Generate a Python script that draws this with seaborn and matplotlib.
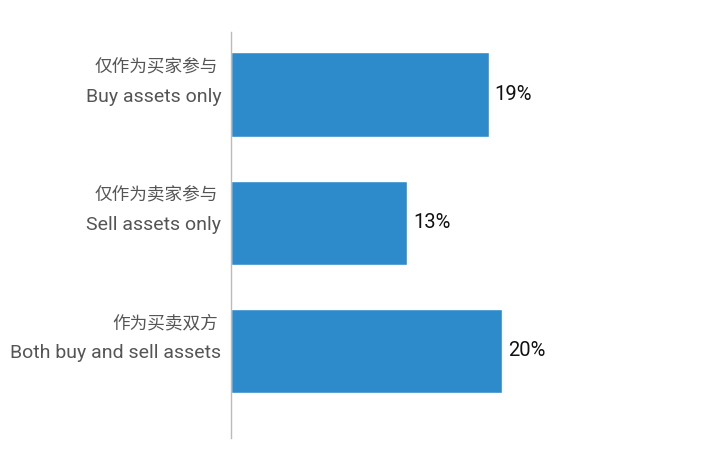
import matplotlib
matplotlib.use("Agg")
import matplotlib.pyplot as plt
from matplotlib import font_manager
import seaborn as sns
import pandas as pd

# ---- data ----
labels_en = ["Buy assets only", "Sell assets only", "Both buy and sell assets"]
labels_zh = ["仅作为买家参与", "仅作为卖家参与", "作为买卖双方"]
values = [19, 13, 20]
value_labels = ["19%", "13%", "20%"]

sns.set_theme(style="white")
names = {f.name for f in font_manager.fontManager.ttflist}
narrow = "Liberation Sans Narrow" if "Liberation Sans Narrow" in names else "Roboto"
plt.rcParams["font.family"] = [narrow, "Noto Sans CJK SC", "DejaVu Sans"]

df = pd.DataFrame({"label": labels_en, "value": values})

fig = plt.figure(figsize=(7.01, 4.71), dpi=100)
ax = fig.add_axes([231 / 701, 33 / 471, 339 / 701, 406 / 471])

sns.barplot(data=df, y="label", x="value", orient="h", color="#2E8BCB",
            saturation=1, width=0.66, ax=ax)

ax.set_xlim(0, 25)
ax.set_ylim(2.68, -0.49)
ax.set_xlabel("")
ax.set_ylabel("")
ax.set_xticks([])
for s in ["top", "right", "bottom"]:
    ax.spines[s].set_visible(False)
ax.spines["left"].set_color("#BBBBBB")
ax.spines["left"].set_linewidth(1)

ax.tick_params(axis="y", length=0, pad=7)
for t in ax.get_yticklabels():
    t.set_fontsize(14)
    t.set_color("#555555")

for i, zh in enumerate(labels_zh):
    ax.annotate(zh, xy=(0, i), xycoords=("axes fraction", "data"),
                xytext=(-9.5, 19.5), textcoords="offset points",
                ha="right", va="center", fontsize=12.7, color="#555555",
                family=["Noto Sans CJK SC", "DejaVu Sans"])

ax.bar_label(ax.containers[0], labels=value_labels, padding=4,
             fontsize=14.5, color="#111111")

fig.savefig("out.png", dpi=100)
